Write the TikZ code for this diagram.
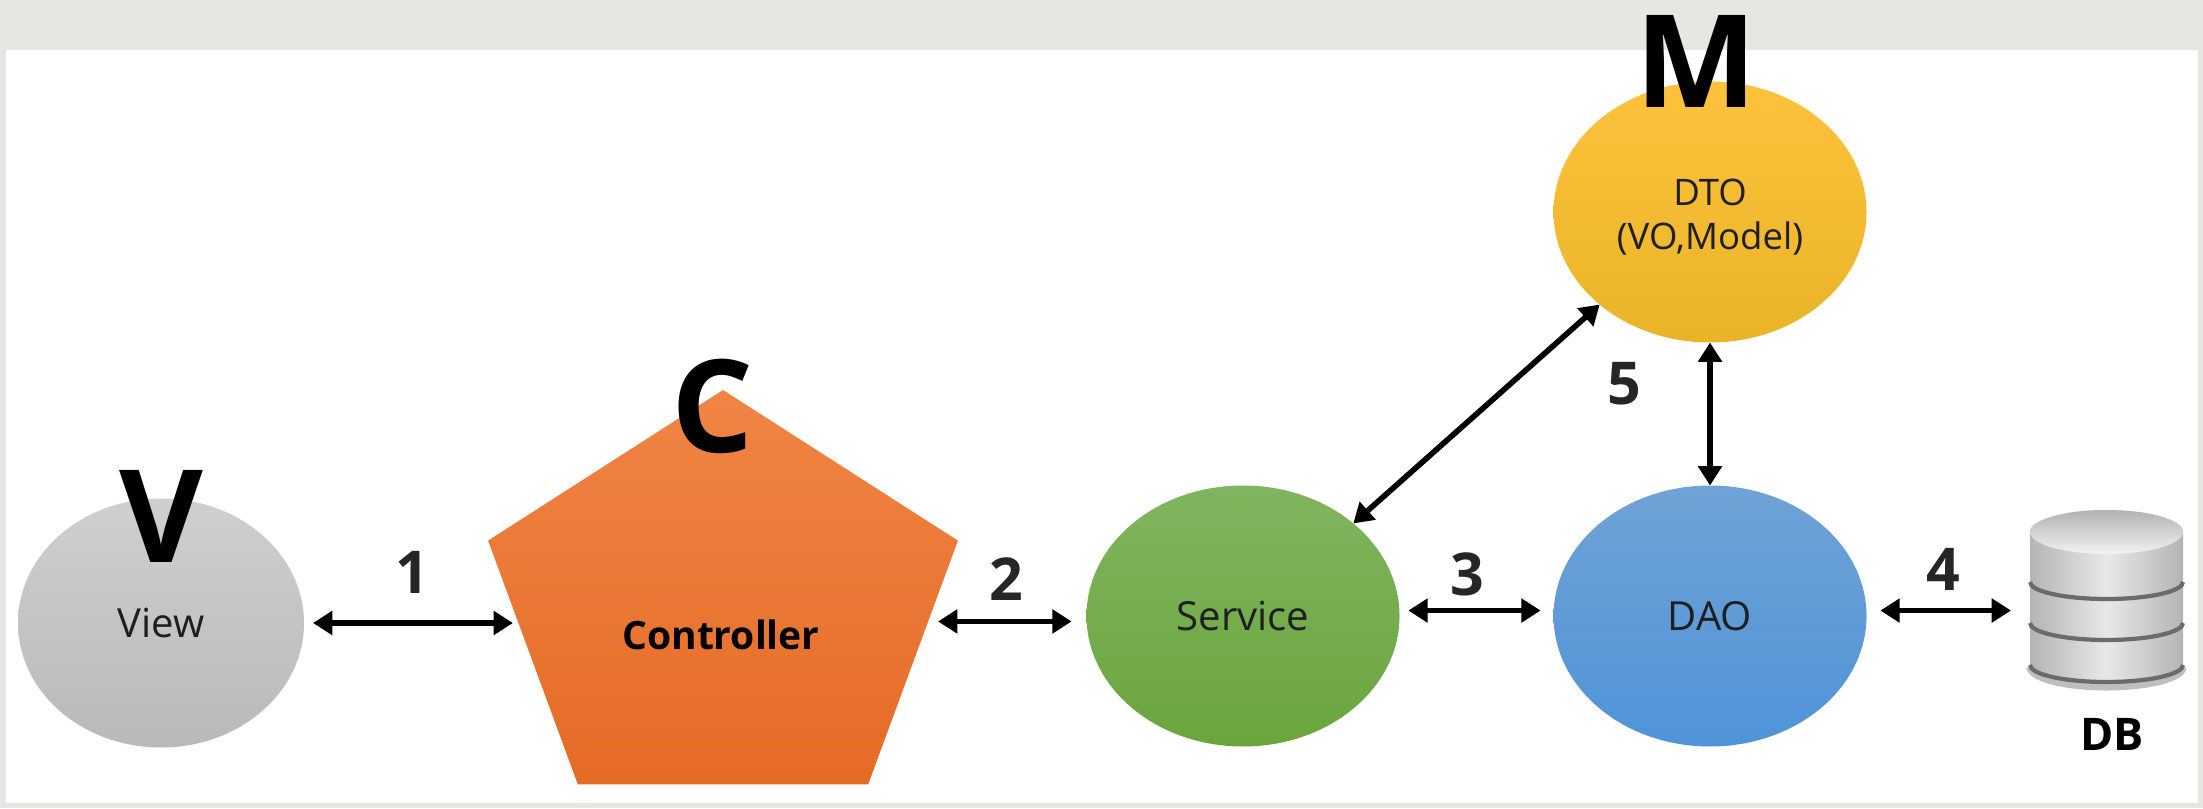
\documentclass[tikz,border=0pt]{standalone}
\usepackage{fontspec}
\setmainfont{Open Sans}
\usetikzlibrary{shapes.geometric,arrows.meta}
\definecolor{framegray}{HTML}{E6E7E3}
\definecolor{viewtop}{HTML}{CFCFCF}
\definecolor{viewbottom}{HTML}{B9B9B9}
\definecolor{ctrltop}{HTML}{F08545}
\definecolor{ctrlbottom}{HTML}{E56B26}
\definecolor{servicetop}{HTML}{80B55F}
\definecolor{servicebottom}{HTML}{6AA53C}
\definecolor{daotop}{HTML}{70A2D6}
\definecolor{daobottom}{HTML}{4F94D8}
\definecolor{dtotop}{HTML}{FEC23C}
\definecolor{dtobottom}{HTML}{E9B428}
\definecolor{dbside}{HTML}{B4B4B4}
\definecolor{dblight}{HTML}{E8E8E8}
\tikzset{
    bubble/.style={ellipse,inner sep=0,outer sep=0,minimum width=3.13cm,minimum height=2.61cm,font=\fontsize{11.4}{12.8}\selectfont,text=black!88,align=center},
    biarrow/.style={{Triangle[length=5.5pt,width=6.6pt]}-{Triangle[length=5.5pt,width=6.6pt]},line width=1.6pt},
    bigletter/.style={inner sep=0,font=\fontsize{36.7}{40}\selectfont\bfseries},
    numlabel/.style={inner sep=0,font=\fontsize{16.8}{18}\selectfont\bfseries,text=black!85},
    dbband/.style={draw=black!58,line width=1.2pt}
}
\begin{document}
\begin{tikzpicture}
    \fill[framegray] (0,0) rectangle (22.03,8.08);
    \fill[white] (0.06,0.05) rectangle (21.98,7.58);
    \node[bubble,minimum width=2.86cm,minimum height=2.49cm,top color=viewtop,bottom color=viewbottom] (view) at (1.61,1.85) {View};
    \node[regular polygon,regular polygon sides=5,minimum size=4.36cm,inner sep=0,outer sep=0,xscale=1.133,transform shape,top color=ctrltop,bottom color=ctrlbottom] (ctrl) at (7.23,2.00) {};
    \node[inner sep=0,font=\fontsize{11.1}{12.8}\selectfont\bfseries] (ctrltext) at (7.21,1.73) {Controller};
    \node[bubble,top color=servicetop,bottom color=servicebottom] (service) at (12.43,1.92) {Service};
    \node[bubble,top color=daotop,bottom color=daobottom] (dao) at (17.10,1.92) {DAO};
    \node[bubble,top color=dtotop,bottom color=dtobottom,font=\fontsize{10.4}{12.6}\selectfont] (dto) at (17.10,5.96) {\rule{0pt}{10.6pt}DTO\\(VO,Model)};
    \node[inner sep=0,outer sep=0,minimum width=1.53cm,minimum height=1.77cm] (db) at (21.065,2.10) {};
    \draw[line width=2pt,black!25] (20.30,1.41) arc[start angle=180,end angle=360,x radius=0.765,y radius=0.2];
    \path[left color=dbside,right color=dbside,middle color=dblight] (20.30,2.76) -- (20.30,1.43) arc[start angle=180,end angle=360,x radius=0.765,y radius=0.19] -- (21.83,2.76) arc[start angle=0,end angle=180,x radius=0.765,y radius=0.22] -- cycle;
    \path[top color=black!30,bottom color=black!5] (21.065,2.76) ellipse (0.765 and 0.22);
    \foreach \y in {2.26,1.85,1.43}
        \draw[dbband] (20.30,\y) arc[start angle=180,end angle=360,x radius=0.765,y radius=0.17];
    \node[inner sep=0,font=\fontsize{12.8}{14}\selectfont\bfseries] (dbtext) at (21.12,0.74) {DB};
    \node[bigletter] (vletter) at (1.61,2.92) {V};
    \node[bigletter] (cletter) at (7.13,4.02) {C};
    \node[bigletter] (mletter) at (16.96,7.47) {M};
    \draw[biarrow,shorten <=0.09cm,shorten >=0.20cm] (view.east) -- (view.east -| ctrl.side 2);
    \draw[biarrow,shorten <=0.25cm,shorten >=0.15cm] (service.182 -| ctrl.side 4) -- (service.182);
    \draw[biarrow,shorten <=0.09cm,shorten >=0.13cm] (service.2) -- (dao.178);
    \draw[biarrow,shorten <=0.14cm,shorten >=0.19cm] (dao.2) -- (dao.2 -| db.west);
    \draw[biarrow] (service.40) -- (dto.220);
    \draw[biarrow] (dao.north) -- (dto.south);
    \node[numlabel] (one) at (4.12,2.36) {1};
    \node[numlabel] (two) at (10.06,2.29) {2};
    \node[numlabel] (three) at (14.67,2.34) {3};
    \node[numlabel] (four) at (19.43,2.39) {4};
    \node[numlabel] (five) at (16.24,4.24) {5};
\end{tikzpicture}
\end{document}
